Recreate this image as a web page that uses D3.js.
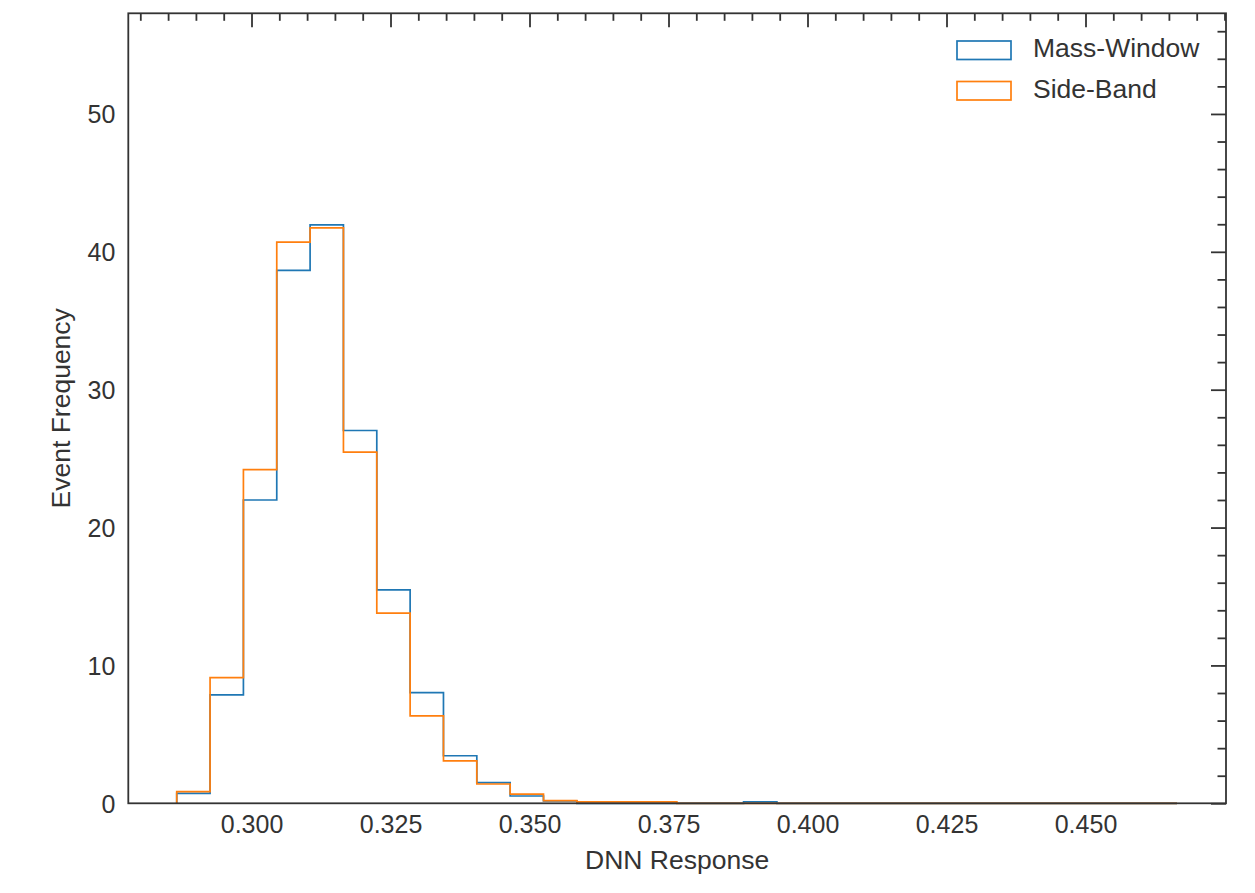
<!DOCTYPE html>
<html>
<head>
<meta charset="utf-8">
<script src="https://cdn.jsdelivr.net/npm/d3@7"></script>
<style>
  html, body { margin: 0; padding: 0; background: #fff; }
  svg { display: block; }
  text { font-family: "Liberation Sans", Arial, sans-serif; fill: #333; }
</style>
</head>
<body>
<svg id="chart" width="1255" height="893"></svg>
<script>
// ---- data ----
const seriesNames = ["Mass-Window", "Side-Band"];
const seriesColors = ["#1f77b4", "#ff7f0e"];
const binStart = 0.28655;
const binEnd = 0.46646;
const massWindow = [0.72, 7.86, 22.0, 38.65, 41.95, 27.04, 15.48, 8.03, 3.45, 1.50, 0.53, 0.18,
  0, 0, 0, 0, 0, 0.10, 0, 0, 0, 0, 0, 0, 0, 0, 0, 0, 0, 0];
const sideBand = [0.84, 9.12, 24.2, 40.7, 41.73, 25.47, 13.79, 6.34, 3.07, 1.40, 0.67, 0.20,
  0.10, 0.10, 0.10, 0, 0, 0, 0, 0, 0, 0, 0, 0, 0, 0, 0, 0, 0, 0];
const xTickValues = [0.300, 0.325, 0.350, 0.375, 0.400, 0.425, 0.450];
const xTickLabels = ["0.300", "0.325", "0.350", "0.375", "0.400", "0.425", "0.450"];
const yTickValues = [0, 10, 20, 30, 40, 50];
const xDomain = [0.27784, 0.47527];
const yDomain = [0, 57.3];
const xLabel = "DNN Response";
const yLabel = "Event Frequency";

// ---- layout ----
const svg = d3.select("#chart");
const L = 128.3, R = 1226, T = 13.3, B = 803.3;
const x = d3.scaleLinear().domain(xDomain).range([L, R]);
const y = d3.scaleLinear().domain(yDomain).range([B, T]);
const tickFont = 25;
const labelFont = 26.5;
const textColor = "#333";

const nb = massWindow.length;
const edges = d3.range(nb + 1).map(i => binStart + (binEnd - binStart) * i / nb);

function stepPoints(vals) {
  const pts = [[edges[0], 0]];
  vals.forEach((v, i) => { pts.push([edges[i], v]); pts.push([edges[i + 1], v]); });
  pts.push([edges[nb], 0]);
  return pts;
}
const line = d3.line().x(d => x(d[0])).y(d => y(d[1]));

const plot = svg.append("g");
[massWindow, sideBand].forEach((vals, k) => {
  plot.append("path")
    .attr("d", line(stepPoints(vals)))
    .attr("fill", "none")
    .attr("stroke", seriesColors[k])
    .attr("stroke-width", 1.7)
    .attr("stroke-linejoin", "miter");
});

// frame
svg.append("rect").attr("x", L).attr("y", T).attr("width", R - L).attr("height", B - T)
  .attr("fill", "none").attr("stroke", "#333").attr("stroke-width", 1.8);

// top axis ticks (inward), no labels
const gTop = svg.append("g").attr("transform", `translate(0,${T})`)
  .call(d3.axisTop(x).tickValues(xTickValues).tickSize(-14).tickFormat(""));
const xMinor = d3.range(0.280, 0.4751, 0.005).filter(v => !xTickValues.some(t => Math.abs(t - v) < 1e-6));
const gTopMinor = svg.append("g").attr("transform", `translate(0,${T})`)
  .call(d3.axisTop(x).tickValues(xMinor).tickSize(-7.5).tickFormat(""));

// right axis ticks (inward)
const gRight = svg.append("g").attr("transform", `translate(${R},0)`)
  .call(d3.axisRight(y).tickValues(yTickValues).tickSize(-15).tickFormat(""));
const yMinor = d3.range(2, 57, 2).filter(v => v % 10 !== 0);
const gRightMinor = svg.append("g").attr("transform", `translate(${R},0)`)
  .call(d3.axisRight(y).tickValues(yMinor).tickSize(-8.5).tickFormat(""));

[gTop, gTopMinor, gRight, gRightMinor].forEach(g => {
  g.select(".domain").remove();
  g.selectAll(".tick line").attr("stroke", "#333").attr("stroke-width", 1.8);
});

// bottom labels (no tick marks)
const gBottom = svg.append("g").attr("transform", `translate(0,${B})`)
  .call(d3.axisBottom(x).tickValues(xTickValues).tickSize(0).tickPadding(0)
    .tickFormat((d, i) => xTickLabels[i]));
gBottom.select(".domain").remove();
gBottom.selectAll(".tick line").remove();
gBottom.selectAll("text").attr("y", 30).attr("dy", null)
  .style("font-size", tickFont + "px").style("font-family", "'Liberation Sans', Arial, sans-serif")
  .attr("fill", textColor);

// left labels (no tick marks)
const gLeft = svg.append("g").attr("transform", `translate(${L},0)`)
  .call(d3.axisLeft(y).tickValues(yTickValues).tickSize(0).tickPadding(0).tickFormat(d3.format("d")));
gLeft.select(".domain").remove();
gLeft.selectAll(".tick line").remove();
gLeft.selectAll("text").attr("x", -13).attr("dy", "0.35em")
  .style("font-size", tickFont + "px").style("font-family", "'Liberation Sans', Arial, sans-serif")
  .attr("fill", textColor);

// axis labels
svg.append("text").attr("x", (L + R) / 2).attr("y", 869).attr("text-anchor", "middle")
  .style("font-size", labelFont + "px").text(xLabel);
svg.append("text").attr("transform", `translate(70,${(T + B) / 2}) rotate(-90)`)
  .attr("text-anchor", "middle").style("font-size", labelFont + "px").text(yLabel);

// legend
const legend = svg.append("g");
seriesNames.forEach((name, i) => {
  const yy = 41 + i * 40.5;
  legend.append("rect").attr("x", 957).attr("y", yy).attr("width", 54).attr("height", 18.5)
    .attr("fill", "none").attr("stroke", seriesColors[i]).attr("stroke-width", 1.7);
  legend.append("text").attr("x", 1033).attr("y", yy + 16).style("font-size", labelFont + "px")
    .text(name);
});
</script>
</body>
</html>
